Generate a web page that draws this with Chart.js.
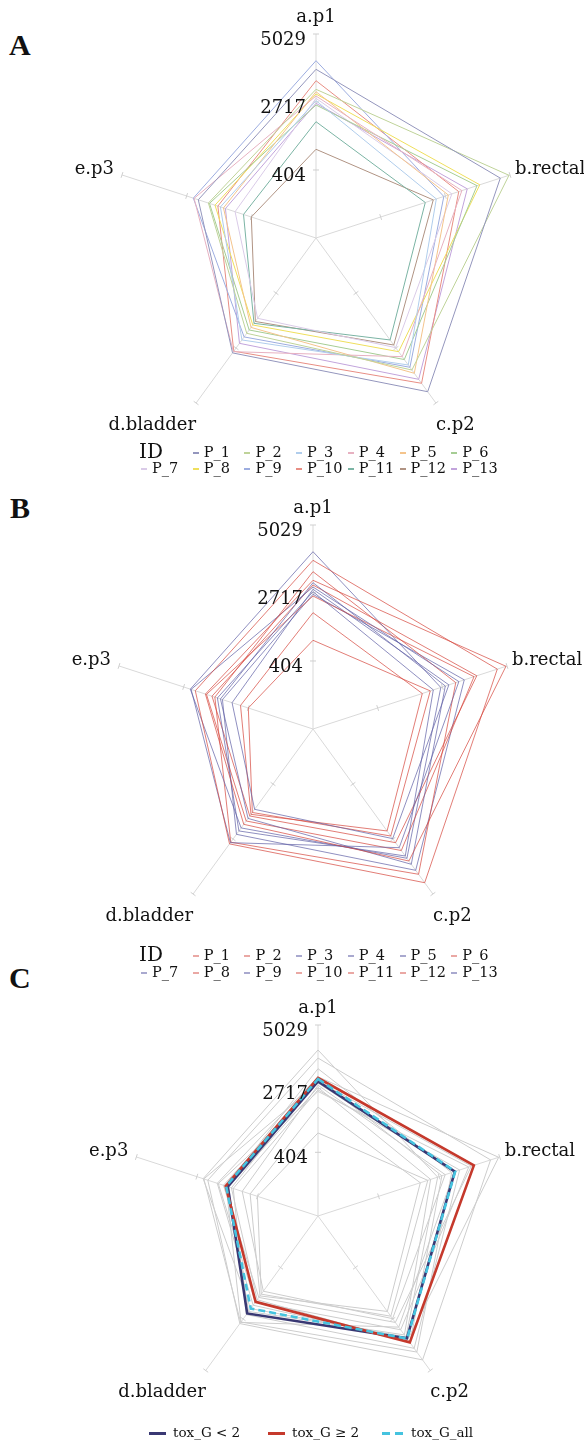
<!DOCTYPE html>
<html>
<head>
<meta charset="utf-8">
<script src="https://cdn.jsdelivr.net/npm/chart.js@4"></script>
<style>
  body { margin: 0; background: #fff; }
  #page { position: relative; width: 584px; height: 1441px; overflow: hidden; font-family: "DejaVu Serif", serif; color: #111; }
  canvas { position: absolute; left: 0; }
  .panel { position: absolute; font-family: "Liberation Serif", serif; font-weight: bold; font-size: 30px; line-height: 30px; }
  .item { position: absolute; font-size: 14.5px; line-height: 16px; white-space: nowrap; }
  .item i { display: inline-block; width: 6px; height: 2px; vertical-align: middle; margin-right: 5px; }
  .ttl { position: absolute; font-size: 20px; line-height: 20px; }
  .citem { position: absolute; font-size: 13.5px; line-height: 16px; white-space: nowrap; }
  .citem i { display: inline-block; width: 17px; height: 3px; vertical-align: middle; margin-right: 7px; }
</style>
</head>
<body>
<div id="page">
  <div class="panel" style="left:9px; top:30px;">A</div>
  <div class="panel" style="left:10px; top:493px;">B</div>
  <div class="panel" style="left:9px; top:963px;">C</div>
  <canvas id="chartA" width="584" height="480" style="top:0px"></canvas>
  <canvas id="chartB" width="584" height="480" style="top:480px"></canvas>
  <canvas id="chartC" width="584" height="481" style="top:960px"></canvas>
  <div id="legA"></div>
  <div id="legB"></div>
  <div id="legC"></div>
</div>
<script>
const axes = ['a.p1', 'b.rectal', 'c.p2', 'd.bladder', 'e.p3'];
const tickValues = [404, 2717, 5029];

const ids = ['P_1', 'P_2', 'P_3', 'P_4', 'P_5', 'P_6', 'P_7', 'P_8', 'P_9', 'P_10', 'P_11', 'P_12', 'P_13'];
const p1 = [3828, 4682, 4553, 2921, 2300];
const p2 = [3148, 4992, 3641, 2098, 1938];
const p3 = [2761, 2393, 3430, 2377, 1509];
const p4 = [2920, 3308, 3080, 2870, 2450];
const p5 = [3067, 2822, 3778, 1850, 1400];
const p6 = [2614, 3849, 3200, 1958, 1900];
const p7 = [2842, 2950, 2700, 1468, 985];
const p8 = [2988, 3948, 2870, 1748, 1703];
const p9 = [4121, 2662, 3526, 2250, 2478];
const p10 = [3441, 3196, 4199, 2850, 1600];
const p11 = [2046, 1999, 2377, 1679, 683];
const p12 = [1108, 2284, 2590, 1600, 404];
const p13 = [2672, 3500, 4032, 2519, 1329];
const patients = [p1, p2, p3, p4, p5, p6, p7, p8, p9, p10, p11, p12, p13];

// toxicity grade group of each patient (panel B colours)
const toxGroup = ['hi', 'hi', 'lo', 'lo', 'lo', 'hi', 'lo', 'hi', 'lo', 'hi', 'hi', 'hi', 'lo'];

const toxLow = [2981, 3317, 3585, 2468, 1535];
const toxHigh = [3104, 4044, 3765, 1947, 1618];
const toxAll = [3067, 3330, 3600, 2247, 1600];

const colorsA = ['#9496bd', '#bfd399', '#b0cdec', '#e7b1c1', '#f4c48c', '#a6cd94', '#dacbe8',
                 '#efdf5c', '#9dade0', '#e88e84', '#7bb4a4', '#b09383', '#c2a4dc'];
const groupColor = { hi: 'rgba(214,70,60,0.7)', lo: 'rgba(96,96,165,0.7)' };
const groupLegend = { hi: '#eaa8a4', lo: '#a9a9cf' };

const axisMin = tickValues[0] - (tickValues[1] - tickValues[0]);

const spokeDecor = {
  id: 'spokeDecor',
  beforeDatasetsDraw(chart) {
    const s = chart.scales.r, ctx = chart.ctx;
    ctx.save();
    ctx.strokeStyle = '#cfcfcf';
    ctx.lineWidth = 1;
    axes.forEach((a, i) => {
      const ang = s.getIndexAngle(i) - Math.PI / 2;
      const nx = -Math.sin(ang), ny = Math.cos(ang);
      tickValues.forEach(v => {
        const p = s.getPointPositionForValue(i, v);
        ctx.beginPath();
        ctx.moveTo(p.x - nx * 3, p.y - ny * 3);
        ctx.lineTo(p.x + nx * 3, p.y + ny * 3);
        ctx.stroke();
      });
    });
    ctx.restore();
  },
  afterDraw(chart) {
    const s = chart.scales.r, ctx = chart.ctx;
    ctx.save();
    ctx.fillStyle = '#111';
    ctx.font = '18px "DejaVu Serif"';
    axes.forEach((label, i) => {
      const p = s.getPointPositionForValue(i, s.max);
      const deg = i * 360 / axes.length;
      let x = p.x, y = p.y;
      if (deg === 0) { ctx.textAlign = 'center'; ctx.textBaseline = 'bottom'; y -= 8; }
      else if (deg < 90) { ctx.textAlign = 'left'; ctx.textBaseline = 'middle'; x += 5; y -= 6; }
      else if (deg < 180) { ctx.textAlign = 'left'; ctx.textBaseline = 'top'; y += 13; }
      else if (deg < 270) { ctx.textAlign = 'right'; ctx.textBaseline = 'top'; y += 13; }
      else { ctx.textAlign = 'right'; ctx.textBaseline = 'middle'; x -= 8; y -= 6; }
      ctx.fillText(label, x, y);
    });
    ctx.textAlign = 'right';
    ctx.textBaseline = 'middle';
    tickValues.forEach(v => {
      const p = s.getPointPositionForValue(0, v);
      ctx.fillText(String(v), p.x - 10, p.y + 6);
    });
    ctx.restore();
  }
};

function radar(id, datasets, pad) {
  return new Chart(document.getElementById(id), {
    type: 'radar',
    data: { labels: axes, datasets: datasets },
    options: {
      responsive: false,
      animation: false,
      devicePixelRatio: 1,
      layout: { padding: pad },
      plugins: { legend: { display: false }, tooltip: { enabled: false } },
      elements: {
        point: { radius: 0, hitRadius: 0, hoverRadius: 0 },
        line: { tension: 0, borderWidth: 1 }
      },
      scales: {
        r: {
          min: axisMin,
          max: tickValues[2],
          startAngle: 0,
          ticks: { display: false, stepSize: tickValues[1] - tickValues[0] },
          grid: { display: false },
          angleLines: { display: true, color: '#d9d9d9', lineWidth: 1 },
          pointLabels: { display: false }
        }
      }
    },
    plugins: [spokeDecor]
  });
}

// panel A: each patient in its own colour
radar('chartA', patients.map((d, i) => ({
  label: ids[i], data: d, borderColor: colorsA[i], fill: false
})), { left: 112, right: 64, top: 34, bottom: 38 });

// panel B: coloured by toxicity group
radar('chartB', patients.map((d, i) => ({
  label: ids[i], data: d, borderColor: groupColor[toxGroup[i]], fill: false
})), { left: 109, right: 67, top: 45, bottom: 27 });

// panel C: patients in grey, group summaries on top
const dsC = [
  { label: 'tox_G_all', data: toxAll, borderColor: '#45c3df', borderWidth: 2.6, borderDash: [7, 4], fill: false, order: 0 },
  { label: 'tox_G \u2265 2', data: toxHigh, borderColor: '#c5392c', borderWidth: 2.6, fill: false, order: 1 },
  { label: 'tox_G < 2', data: toxLow, borderColor: '#393873', borderWidth: 2.6, fill: false, order: 2 }
].concat(patients.map((d, i) => ({
  label: ids[i], data: d, borderColor: '#cdcdcd', borderWidth: 1, fill: false, order: 3
})));
radar('chartC', dsC, { left: 127, right: 75, top: 65, bottom: 34 });

// legends for A and B
function idLegend(hostId, rowY, colorOf) {
  const host = document.getElementById(hostId);
  const colX = i => 141 + i * 51.7;
  const ttl = document.createElement('div');
  ttl.className = 'ttl';
  ttl.textContent = 'ID';
  ttl.style.left = '139px';
  ttl.style.top = (rowY[0] - 11) + 'px';
  host.appendChild(ttl);
  ids.forEach((name, i) => {
    const row = i < 6 ? 0 : 1;
    const col = i < 6 ? i + 1 : i - 6;
    const el = document.createElement('div');
    el.className = 'item';
    el.style.left = colX(col) + 'px';
    el.style.top = (rowY[row] - 8) + 'px';
    el.innerHTML = '<i style="background:' + colorOf(i) + '"></i>' + name;
    host.appendChild(el);
  });
}
idLegend('legA', [452, 468], i => colorsA[i]);
idLegend('legB', [955, 972], i => groupLegend[toxGroup[i]]);

// legend for C
const legC = document.getElementById('legC');
[
  { name: 'tox_G < 2', x: 149, style: 'background:#393873' },
  { name: 'tox_G \u2265 2', x: 268, style: 'background:#c5392c' },
  { name: 'tox_G_all', x: 382, style: 'width:22px;background:repeating-linear-gradient(90deg,#45c3df 0 8px,transparent 8px 13px)' }
].forEach(it => {
  const el = document.createElement('div');
  el.className = 'citem';
  el.style.left = it.x + 'px';
  el.style.top = (1432 - 8) + 'px';
  el.innerHTML = '<i style="' + it.style + '"></i>' + it.name;
  legC.appendChild(el);
});
</script>
</body>
</html>
